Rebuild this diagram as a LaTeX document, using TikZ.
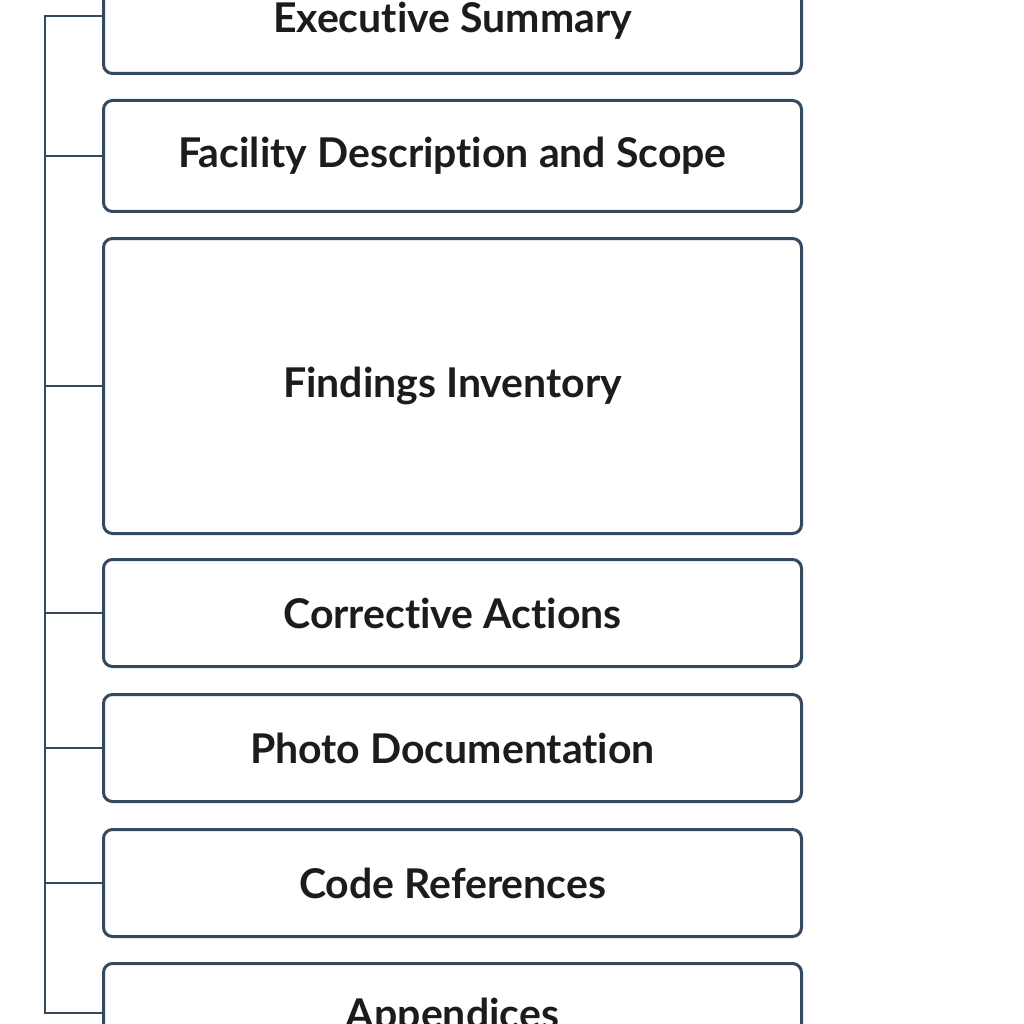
\documentclass[tikz,border=0pt]{standalone}
\usepackage{fontspec}
\setmainfont{Lato}[Ligatures={NoCommon,NoRare,NoDiscretionary}]
\begin{document}
\begin{tikzpicture}[x=1pt,y=-1pt,
  sect/.style={draw=boxc, line width=3pt, rounded corners=9pt, fill=white,
    minimum width=698pt, text=textc, font=\bfseries\fontsize{41}{46}\selectfont, anchor=north west, inner sep=0pt},
  conn/.style={draw=boxc, line width=2.4pt}]
\definecolor{boxc}{HTML}{34495E}
\definecolor{textc}{HTML}{1C1C1C}
\useasboundingbox (0,0) rectangle (1024,1024);
\fill[white] (0,0) rectangle (1024,1024);
\node[sect, minimum height=106pt] (s1) at (102,-34) {Executive Summary};
\node[sect, minimum height=111pt] (s2) at (102,99) {Facility Description and Scope};
\node[sect, minimum height=295pt] (s3) at (102,237) {Findings Inventory};
\node[sect, minimum height=107pt] (s4) at (102,558) {Corrective Actions};
\node[sect, minimum height=107pt] (s5) at (102,693) {Photo Documentation};
\node[sect, minimum height=107pt] (s6) at (102,828) {Code References};
\node[sect, minimum height=107pt] (s7) at (102,962) {Appendices};
\coordinate (top) at (45,16);
\coordinate (bot) at (45,1013);
\draw[conn] (s1.west |- top) -- (top) -- (bot) -- (s7.west |- bot);
\foreach \n in {s2,s3,s4,s5,s6} \draw[conn] (45,0 |- \n.west) -- (\n.west);
\end{tikzpicture}
\end{document}
